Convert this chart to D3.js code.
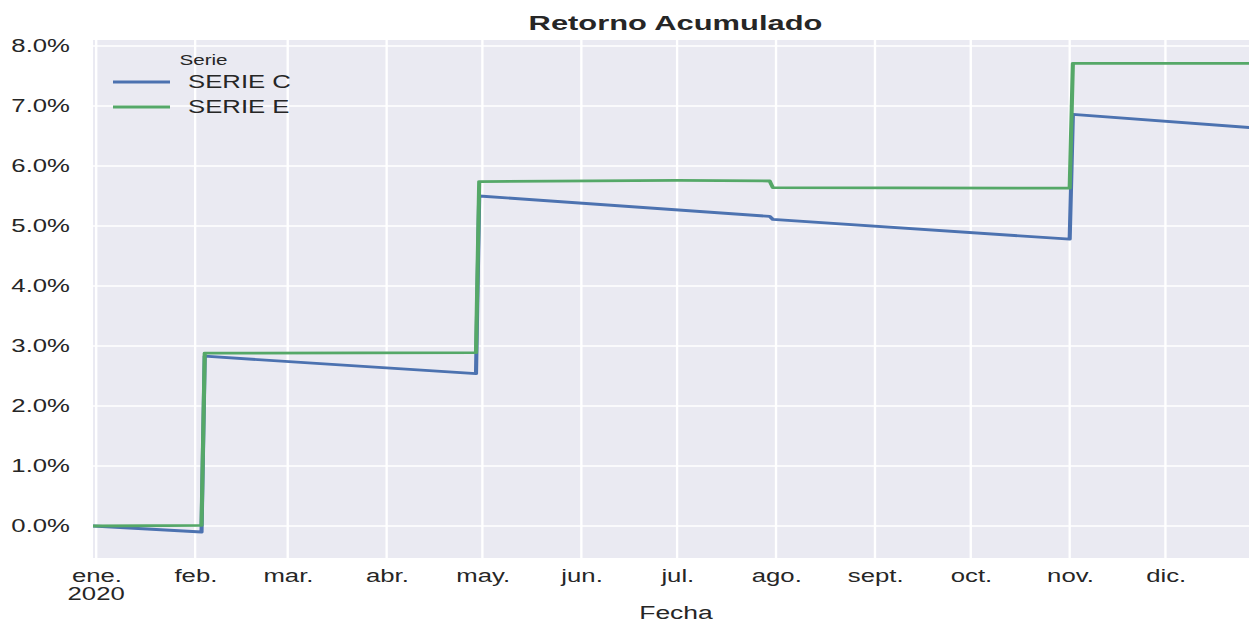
<!DOCTYPE html>
<html>
<head>
<meta charset="utf-8">
<script src="https://cdn.jsdelivr.net/npm/d3@7"></script>
<style>
  html, body { margin: 0; padding: 0; background: #fff; }
  svg { display: block; }
  text { font-family: "Liberation Sans", Arial, sans-serif; fill: #262626; }
</style>
</head>
<body>
<svg id="chart"></svg>
<script>
"use strict";

// data (values in %)
const fechasC = ['2019-12-31', '2020-02-03', '2020-02-04', '2020-04-29', '2020-04-30',
                 '2020-07-30', '2020-07-31', '2020-11-01', '2020-11-02', '2020-12-30'];
const serieC = [0.00, -0.10, 2.83, 2.54, 5.50, 5.16, 5.11, 4.78, 6.86, 6.63];

const fechasE = ['2019-12-31', '2020-02-03', '2020-02-04', '2020-04-29', '2020-04-30',
                 '2020-07-01', '2020-07-30', '2020-07-31', '2020-11-01', '2020-11-02', '2020-12-30'];
const serieE = [0.00, 0.01, 2.88, 2.89, 5.74, 5.76, 5.75, 5.64, 5.63, 7.71, 7.71];

const meses = ['ene.', 'feb.', 'mar.', 'abr.', 'may.', 'jun.',
               'jul.', 'ago.', 'sept.', 'oct.', 'nov.', 'dic.'];
const yTicks = [0, 1, 2, 3, 4, 5, 6, 7, 8];
const series = [
  {name: 'SERIE C', fechas: fechasC, valores: serieC, color: '#4C72B0'},
  {name: 'SERIE E', fechas: fechasE, valores: serieE, color: '#55A868'}
];

// the reference is stretched horizontally, so draw narrow and stretch
const S = 1.47;
const W = 1249, H = 623;
const iw = W / S;

const svg = d3.select('#chart')
  .attr('width', W).attr('height', H)
  .attr('viewBox', '0 0 ' + iw + ' ' + H)
  .attr('preserveAspectRatio', 'none');

const parse = d3.timeParse('%Y-%m-%d');
const plot = {left: 93 / S, right: 1258 / S, top: 40, bottom: 558};

const x = d3.scaleTime()
  .domain([parse('2019-12-31'), parse('2020-12-30')])
  .range([plot.left, plot.right]);
const y = d3.scaleLinear()
  .domain([-0.533, 8.1])
  .range([plot.bottom, plot.top]);

svg.append('clipPath').attr('id', 'clip')
  .append('rect')
    .attr('x', plot.left).attr('y', plot.top)
    .attr('width', plot.right - plot.left).attr('height', plot.bottom - plot.top);

const g = svg.append('g').attr('clip-path', 'url(#clip)');

// background
g.append('rect')
  .attr('x', plot.left).attr('y', plot.top)
  .attr('width', plot.right - plot.left).attr('height', plot.bottom - plot.top)
  .attr('fill', '#EAEAF2');

const monthTicks = meses.map((m, i) => new Date(2020, i, 1));

// grid
g.selectAll('.gx').data(monthTicks).enter()
  .append('line')
    .attr('x1', d => x(d)).attr('x2', d => x(d))
    .attr('y1', plot.top).attr('y2', plot.bottom)
    .attr('stroke', '#fff').attr('stroke-width', 1.6);
g.selectAll('.gy').data(yTicks).enter()
  .append('line')
    .attr('x1', plot.left).attr('x2', plot.right)
    .attr('y1', d => y(d)).attr('y2', d => y(d))
    .attr('stroke', '#fff').attr('stroke-width', 1.6);

// lines
const line = d3.line()
  .x(d => x(d[0]))
  .y(d => y(d[1]));

series.forEach(s => {
  const pts = s.fechas.map((f, i) => [parse(f), s.valores[i]]);
  g.append('path')
    .datum(pts)
    .attr('d', line)
    .attr('fill', 'none')
    .attr('stroke', s.color)
    .attr('stroke-width', 2.8)
    .attr('stroke-linejoin', 'round');
});

// y axis
const axisY = svg.append('g')
  .attr('transform', 'translate(' + (70 / S) + ',0)')
  .call(d3.axisLeft(y).tickValues(yTicks).tickSize(0).tickPadding(0)
    .tickFormat(d => d3.format('.1f')(d) + '%'));
axisY.select('.domain').remove();
axisY.selectAll('text')
  .attr('font-size', 17.5)
  .attr('font-family', '"Liberation Sans", Arial, sans-serif')
  .attr('fill', '#262626');

// x axis
const axisX = svg.append('g')
  .attr('transform', 'translate(0,' + plot.bottom + ')')
  .call(d3.axisBottom(x).tickValues(monthTicks).tickSize(0).tickPadding(0)
    .tickFormat((d, i) => meses[i]));
axisX.select('.domain').remove();
axisX.selectAll('text')
  .attr('font-size', 17.5)
  .attr('font-family', '"Liberation Sans", Arial, sans-serif')
  .attr('fill', '#262626')
  .attr('dy', null)
  .attr('y', 582 - plot.bottom);

svg.append('text')
  .attr('x', x(monthTicks[0])).attr('y', 600)
  .attr('text-anchor', 'middle')
  .attr('font-size', 17.5)
  .text('2020');

// labels
svg.append('text')
  .attr('x', 676 / S).attr('y', 619)
  .attr('text-anchor', 'middle')
  .attr('font-size', 18)
  .text('Fecha');

svg.append('text')
  .attr('x', 675.5 / S).attr('y', 30)
  .attr('text-anchor', 'middle')
  .attr('font-size', 21)
  .attr('font-weight', 'bold')
  .text('Retorno Acumulado');

// legend
const leg = svg.append('g');
leg.append('text')
  .attr('x', 203.5 / S).attr('y', 65)
  .attr('text-anchor', 'middle')
  .attr('font-size', 14)
  .text('Serie');
series.forEach((s, i) => {
  const ly = 82 + i * 25;
  leg.append('line')
    .attr('x1', 113 / S).attr('x2', 170 / S)
    .attr('y1', ly).attr('y2', ly)
    .attr('stroke', s.color).attr('stroke-width', 2.8);
  leg.append('text')
    .attr('x', 188 / S).attr('y', ly + 6.5)
    .attr('font-size', 17.5)
    .text(s.name);
});
</script>
</body>
</html>
